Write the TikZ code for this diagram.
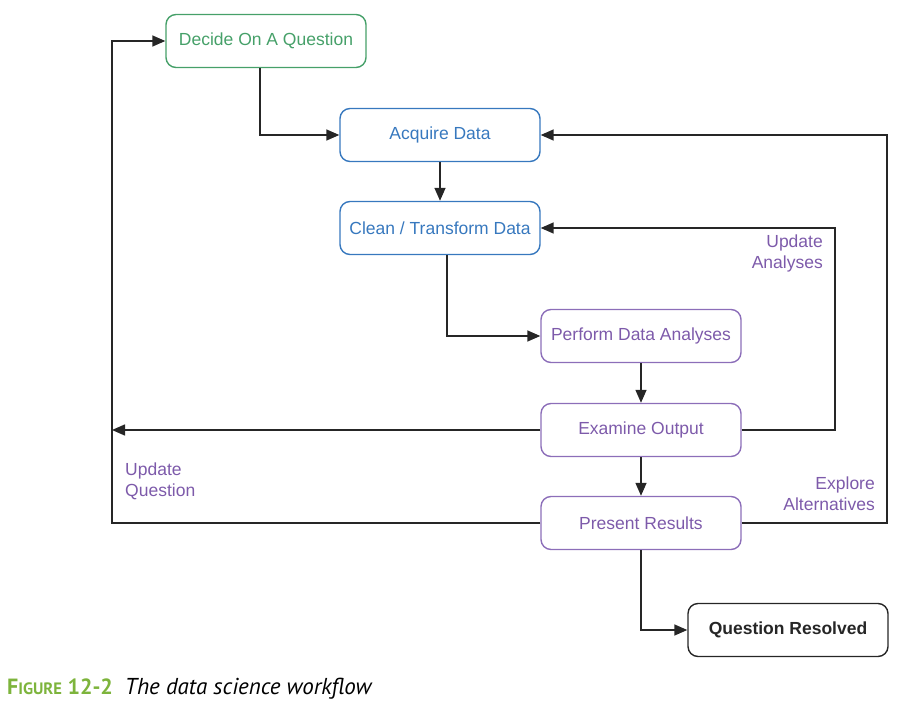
\documentclass[tikz,border=0pt]{standalone}
\usepackage{fontspec}
\setmainfont{Liberation Sans}
\newfontfamily\capfont{PT Sans}
\usetikzlibrary{arrows.meta}
\definecolor{cgreen}{RGB}{70,160,105}
\definecolor{cblue}{RGB}{55,120,190}
\definecolor{cpurple}{RGB}{125,90,170}
\definecolor{cpurpleb}{RGB}{140,110,185}
\definecolor{capgreen}{RGB}{125,180,60}
\tikzset{
  box/.style={draw, line width=1.4pt, rounded corners=10pt, minimum width=200pt, minimum height=53pt, inner sep=0pt, font=\fontsize{17.5}{21}\selectfont, align=center},
  gbox/.style={box, draw=cgreen, text=cgreen},
  bbox/.style={box, draw=cblue, text=cblue},
  pbox/.style={box, draw=cpurpleb, text=cpurple},
  kbox/.style={box, draw=black!85, text=black!85, font=\fontsize{17.5}{21}\selectfont\bfseries},
  arr/.style={draw=black!85, line width=1.5pt, -{Triangle[length=13pt,width=11pt]}},
  lbl/.style={text=cpurple, font=\fontsize{17.5}{21}\selectfont, inner sep=0pt}
}
\begin{document}
\begin{tikzpicture}[x=1pt,y=-1pt]
\useasboundingbox (0,0) rectangle (901,703);
\node[gbox] (decide) at (266,41) {Decide On A Question};
\node[bbox] (acquire) at (440,135) {Acquire Data};
\node[bbox] (clean) at (440,228) {Clean / Transform Data};
\node[pbox] (perform) at (641,336) {Perform Data Analyses};
\node[pbox] (examine) at (641,430) {Examine Output};
\node[pbox] (present) at (641,523) {Present Results};
\node[kbox] (resolved) at (788,630) {Question Resolved};

\coordinate (rA) at (835,0);
\coordinate (rB) at (887,0);
\coordinate (lq) at (112,430);
\coordinate (lL) at (112,0);

\draw[arr] ([xshift=-6pt]decide.south) |- (acquire.west);
\draw[arr] (acquire.south) -- (clean.north);
\draw[arr] ([xshift=7pt]clean.south) |- (perform.west);
\draw[arr] (perform.south) -- (examine.north);
\draw[arr] (examine.south) -- (present.north);
\draw[arr] (present.south) |- (resolved.west);
\draw[arr] (examine.east) -| (rA |- clean.east) -- (clean.east);
\draw[arr] (present.east) -| (rB |- acquire.east) -- (acquire.east);
\draw[arr] (examine.west) -- (lq);
\draw[arr] (present.west) -| (lL |- decide.west) -- (decide.west);

\node[lbl, anchor=east, align=right] (ua) at (823,253) {Update\\Analyses};
\node[lbl, anchor=east, align=right] (ea) at (875,494) {Explore\\Alternatives};
\node[lbl, anchor=west, align=left] (uq) at (125,481) {Update\\Question};

\node[anchor=base west, inner sep=0pt] (cap) at (7,694) {\capfont\fontsize{22}{26}\selectfont{\color{capgreen}\bfseries F{\fontsize{16.5}{19}\selectfont IGURE} 12-2}\hspace{12pt}\fontsize{23}{27}\selectfont\itshape The data science workflow};
\end{tikzpicture}
\end{document}
